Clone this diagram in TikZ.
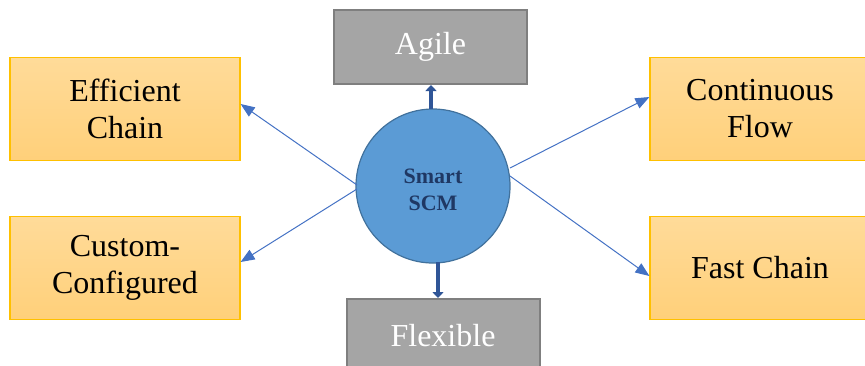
\documentclass[tikz,border=0pt]{standalone}
\usepackage{fontspec}
\setmainfont{Liberation Serif}
\usetikzlibrary{arrows.meta}
\definecolor{ortop}{HTML}{FFDB99}
\definecolor{orbot}{HTML}{FFD07A}
\definecolor{ordraw}{HTML}{FFC000}
\definecolor{grfill}{HTML}{A5A5A5}
\definecolor{grdraw}{HTML}{7F7F7F}
\definecolor{cfill}{HTML}{5B9BD5}
\definecolor{cdraw}{HTML}{41719C}
\definecolor{thick}{HTML}{2F5597}
\definecolor{thin}{HTML}{4472C4}
\definecolor{ctext}{HTML}{1F3864}
\tikzset{
  obox/.style={draw=ordraw, line width=1.2pt, top color=ortop, bottom color=orbot, minimum width=230pt, minimum height=103pt, inner sep=0pt, align=center, font=\fontsize{32}{37}\selectfont, text=black},
  gbox/.style={draw=grdraw, line width=2pt, fill=grfill, minimum width=193pt, minimum height=74pt, inner sep=0pt, align=center, font=\fontsize{32}{37}\selectfont, text=white},
  hub/.style={circle, draw=cdraw, line width=1.2pt, fill=cfill, minimum size=154pt, inner sep=0pt},
  hubtext/.style={align=center, inner sep=0pt, font=\fontsize{22}{27}\selectfont\bfseries, text=ctext},
  tharrow/.style={draw=thick, line width=4pt, -{Triangle[length=6pt,width=11pt]}},
  tnarrow/.style={draw=thin, line width=1pt, -{Triangle[length=14pt,width=11pt]}}
}
\begin{document}
\begin{tikzpicture}[x=1pt,y=-1pt]
\useasboundingbox (0,0) rectangle (865,365);
\node[obox] (eff) at (125,109) {Efficient\\Chain};
\node[obox] (cus) at (125,268) {Custom-\\Configured};
\node[obox, minimum width=220pt] (con) at (760,109) {Continuous\\Flow};
\node[obox, minimum width=220pt] (fas) at (760,268) {Fast Chain};
\node[gbox] (agi) at (430.5,47) {Agile};
\node[gbox] (fle) at (443,336) {Flexible};
\node[hub] (scm) at (433,186) {};
\node[hubtext] (scmtext) at (433,190) {Smart\\SCM};
\coordinate (s1) at (357,185);
\coordinate (s2) at (357,189);
\coordinate (s3) at (510,168);
\coordinate (s4) at (510,176);
\coordinate (t1) at (431,109);
\coordinate (t2) at (438,262);
\draw[tharrow] (t1) -- (agi.south -| t1);
\draw[tharrow] (t2) -- (fle.north -| t2);
\draw[tnarrow] (s1) -- (eff.east |- 0,104);
\draw[tnarrow] (s2) -- (cus.east |- 0,262);
\draw[tnarrow] (s3) -- (con.west |- 0,97);
\draw[tnarrow] (s4) -- (fas.west |- 0,276);
\end{tikzpicture}
\end{document}
